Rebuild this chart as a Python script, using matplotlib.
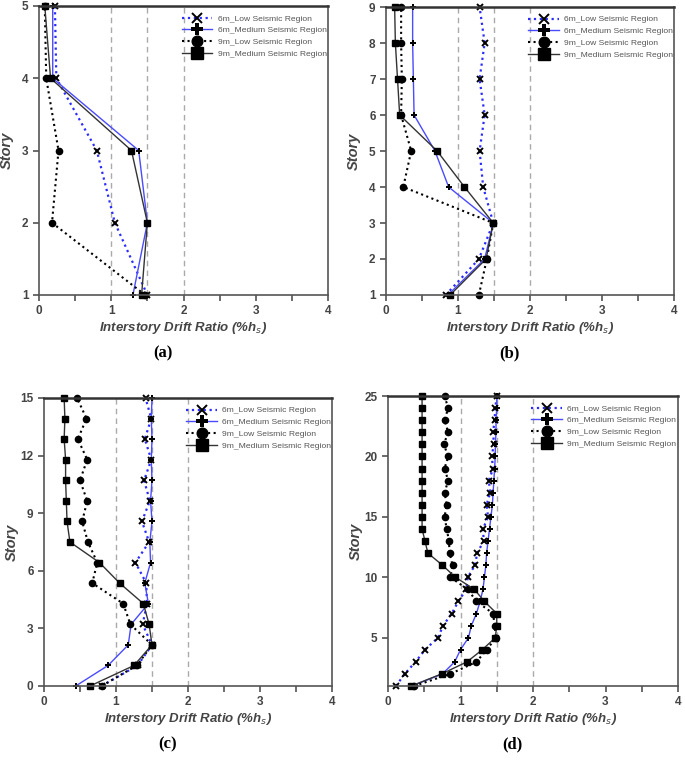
import matplotlib
matplotlib.use('Agg')
import matplotlib.pyplot as plt
from matplotlib.ticker import MultipleLocator

sans = ['Liberation Sans Narrow', 'Liberation Sans', 'DejaVu Sans']
plt.rcParams['font.family'] = sans
plt.rcParams['mathtext.default'] = 'it'

labels = ['6m_Low Seismic Region', '6m_Medium Seismic Region',
          '9m_Low Seismic Region', '9m_Medium Seismic Region']

# (a) 5 stories
story_a = [1, 2, 3, 4, 5]
a_6m_low = [1.50, 1.05, 0.80, 0.24, 0.22]
a_6m_med = [1.30, 1.50, 1.38, 0.19, 0.19]
a_9m_low = [1.47, 0.18, 0.27, 0.10, 0.08]
a_9m_med = [1.42, 1.50, 1.28, 0.16, 0.08]

# (b) 9 stories
story_b = [1, 2, 3, 4, 5, 6, 7, 8, 9]
b_6m_low = [0.83, 1.29, 1.49, 1.35, 1.30, 1.37, 1.30, 1.37, 1.30]
b_6m_med = [0.86, 1.37, 1.49, 0.87, 0.68, 0.39, 0.38, 0.37, 0.37]
b_9m_low = [1.29, 1.40, 1.49, 0.24, 0.35, 0.21, 0.22, 0.21, 0.21]
b_9m_med = [0.89, 1.39, 1.49, 1.09, 0.71, 0.19, 0.16, 0.13, 0.12]

# (c) 15 stories, drawn over a 0-15 axis
story_c = [0.0, 1.07, 2.14, 3.21, 4.29, 5.36, 6.43, 7.5, 8.57, 9.64,
           10.71, 11.79, 12.86, 13.93, 15.0]
c_6m_low = [0.80, 1.30, 1.50, 1.37, 1.43, 1.42, 1.27, 1.46, 1.36, 1.47,
            1.39, 1.49, 1.40, 1.49, 1.41]
c_6m_med = [0.44, 0.89, 1.17, 1.21, 1.45, 1.40, 1.48, 1.47, 1.50, 1.48,
            1.50, 1.49, 1.50, 1.49, 1.50]
c_9m_low = [0.80, 1.29, 1.50, 1.20, 1.10, 0.67, 0.74, 0.61, 0.53, 0.60,
            0.50, 0.60, 0.47, 0.59, 0.46]
c_9m_med = [0.64, 1.25, 1.50, 1.46, 1.38, 1.05, 0.77, 0.36, 0.32, 0.31,
            0.30, 0.30, 0.28, 0.29, 0.28]

# (d) 25 stories
story_d = list(range(1, 26))
d_6m_low = [0.11, 0.23, 0.38, 0.51, 0.69, 0.76, 0.88, 0.97, 1.08, 1.10,
            1.20, 1.23, 1.32, 1.31, 1.38, 1.36, 1.41, 1.39, 1.45, 1.43,
            1.46, 1.45, 1.47, 1.48, 1.50]
d_6m_med = [0.33, 0.75, 0.92, 1.00, 1.11, 1.15, 1.22, 1.27, 1.31, 1.33,
            1.35, 1.36, 1.38, 1.40, 1.42, 1.44, 1.45, 1.46, 1.47, 1.48,
            1.48, 1.49, 1.49, 1.50, 1.50]
d_9m_low = [0.36, 0.86, 1.22, 1.36, 1.49, 1.47, 1.45, 1.22, 1.10, 0.86,
            0.89, 0.85, 0.84, 0.81, 0.78, 0.81, 0.78, 0.83, 0.78, 0.83,
            0.77, 0.83, 0.78, 0.83, 0.78]
d_9m_med = [0.32, 0.74, 1.09, 1.30, 1.48, 1.50, 1.50, 1.33, 1.19, 0.93,
            0.75, 0.55, 0.51, 0.47, 0.47, 0.47, 0.47, 0.47, 0.47, 0.47,
            0.47, 0.47, 0.47, 0.47, 0.47]

panels = [
    ('(a)', story_a, [a_6m_low, a_6m_med, a_9m_low, a_9m_med], (1, 5), [1, 2, 3, 4, 5],
     [39, 328, 6, 295]),
    ('(b)', story_b, [b_6m_low, b_6m_med, b_9m_low, b_9m_med], (1, 9), list(range(1, 10)),
     [386, 674, 7, 295]),
    ('(c)', story_c, [c_6m_low, c_6m_med, c_9m_low, c_9m_med], (0, 15), [0, 3, 6, 9, 12, 15],
     [44, 332, 398, 686]),
    ('(d)', story_d, [d_6m_low, d_6m_med, d_9m_low, d_9m_med], (1, 25), [5, 10, 15, 20, 25],
     [388, 678, 396, 686]),
]

W, H = 685, 765
styles = [
    dict(color='#2b2bff', ls=':', lw=1.6, marker='x', ms=4, mew=1.4, mec='black'),
    dict(color='#4a4aff', ls='-', lw=1.0, marker='P', ms=4.8, mew=0, mfc='black'),
    dict(color='black', ls=':', lw=1.5, marker='o', ms=4.5, mfc='black', mec='black'),
    dict(color='#333333', ls='-', lw=1.0, marker='s', ms=5, mfc='black', mec='black'),
]

fig = plt.figure(figsize=(W / 100, H / 100), dpi=100)
for name, story, series, ylim, yticks, box in panels:
    l, r, t, b = box
    ax = fig.add_axes([l / W, 1 - b / H, (r - l) / W, (b - t) / H])
    for xv in [1, 1.5, 2]:
        ax.axvline(xv, color='#aaaaaa', ls=(0, (4, 3)), lw=1, zorder=0)
    for vals, lab, st in zip(series, labels, styles):
        ax.plot(vals, story, label=lab, clip_on=False, **st)
    ax.set_xlim(0, 4)
    ax.set_ylim(*ylim)
    ax.set_yticks(yticks)
    ax.xaxis.set_major_locator(MultipleLocator(1))
    ax.xaxis.set_minor_locator(MultipleLocator(0.5))
    ax.tick_params(axis='both', which='both', direction='out', colors='#444444',
                   labelsize=8.5, width=1.1)
    ax.tick_params(which='major', length=4)
    ax.tick_params(which='minor', length=4)
    for lbl in ax.get_xticklabels() + ax.get_yticklabels():
        lbl.set_fontweight('bold')
        lbl.set_family(['Liberation Sans', 'DejaVu Sans'])
    for sp in ax.spines.values():
        sp.set_color('#555555')
        sp.set_linewidth(1.2)
    ax.spines['top'].set_linewidth(1.8)
    ax.spines['top'].set_color('#333333')
    ax.set_xlabel('Interstory Drift Ratio (%h$_s$)', fontsize=9.5,
                  fontweight='bold', fontstyle='italic', color='#444444', labelpad=2)
    ax.set_ylabel('Story', fontsize=10.5, fontweight='bold', fontstyle='italic',
                  color='#444444')
    ax.yaxis.set_label_coords(-25 / (r - l), 0.5)
    ax.legend(loc='upper left', bbox_to_anchor=(0.48, 0.985), frameon=False,
              fontsize=6.1, labelcolor='#555555', handlelength=3.6,
              markerscale=1.7, labelspacing=0.45, borderpad=0, handletextpad=0.6)
    cx = (l + r) / 2 / W
    fig.text(cx - 0.03, 1 - (b + 58) / H, name, ha='center', va='center',
             fontsize=12, fontweight='bold', family=['Liberation Serif', 'DejaVu Serif'])

fig.savefig('out.png', dpi=100)
